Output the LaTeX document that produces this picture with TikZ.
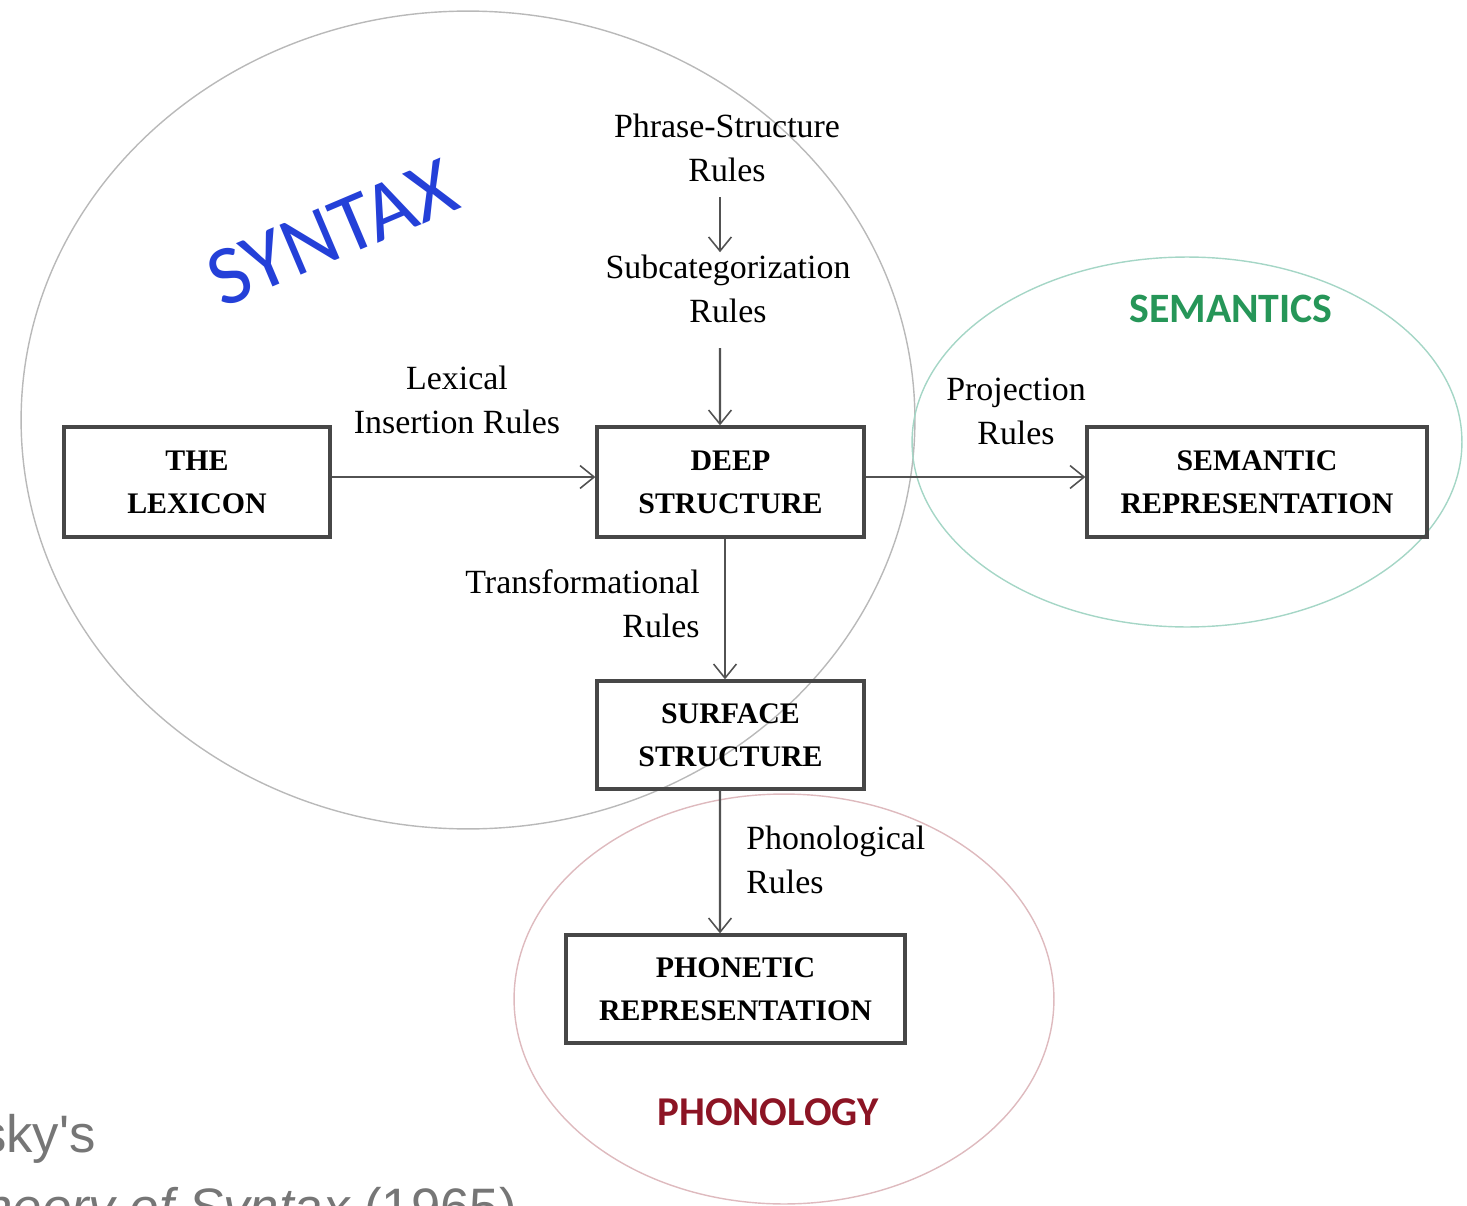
\documentclass[tikz,border=0pt]{standalone}
\usepackage{fontspec}
\setmainfont{Liberation Serif}
\newfontfamily\calfont{Carlito}
\newfontfamily\arialfont{Liberation Sans}
\usetikzlibrary{arrows.meta}
\definecolor{syntaxline}{RGB}{185,185,185}
\definecolor{semline}{RGB}{165,214,198}
\definecolor{phonline}{RGB}{222,186,190}
\definecolor{syntaxblue}{RGB}{36,64,216}
\definecolor{semgreen}{RGB}{38,150,88}
\definecolor{phonred}{RGB}{140,20,36}
\definecolor{capgray}{RGB}{118,118,118}
\begin{document}
\begin{tikzpicture}[x=0.02cm,y=-0.02cm,
  boxnode/.style={draw=black!72,line width=1.9pt,inner sep=0pt,align=center,
    font=\fontsize{17}{24.4}\selectfont\bfseries},
  lbl/.style={inner sep=0pt,font=\fontsize{19.3}{25}\selectfont},
  arr/.style={draw=black!68,line width=1.4pt,
    -{Straight Barb[length=8pt,width=13pt,line width=0.9pt]}},
  zone/.style={line width=0.8pt},
  caption/.style={inner sep=0pt,text=capgray,font=\arialfont\fontsize{30}{34}\selectfont}
]
\useasboundingbox (0,0) rectangle (1467,1206);
\clip (0,0) rectangle (1467,1206);

% domain ellipses
\draw[zone,draw=syntaxline] (468,420) ellipse [x radius=8.94cm, y radius=8.18cm];
\draw[zone,draw=semline] (1187,442) ellipse [x radius=5.5cm, y radius=3.7cm];
\draw[zone,draw=phonline] (784,999) ellipse [x radius=5.4cm, y radius=4.1cm];

% domain titles
\node[text=syntaxblue,rotate=23,inner sep=0pt,font=\calfont\fontsize{48}{52}\selectfont] (syntaxtitle) at (332,233) {SYNTAX};
\node[text=semgreen,inner sep=0pt,font=\calfont\bfseries\fontsize{23.8}{28}\selectfont] (semtitle) at (1231,309) {SEMANTICS};
\node[text=phonred,inner sep=0pt,font=\calfont\bfseries\fontsize{23.3}{28}\selectfont] (phontitle) at (768,1112) {PHONOLOGY};

% boxes
\node[boxnode,minimum width=5.32cm,minimum height=2.2cm] (lex) at (197,482) {THE\\LEXICON};
\node[boxnode,minimum width=5.34cm,minimum height=2.2cm] (deep) at (730.5,482) {DEEP\\STRUCTURE};
\node[boxnode,minimum width=6.8cm,minimum height=2.2cm] (sem) at (1257,482) {SEMANTIC\\REPRESENTATION};
\node[boxnode,minimum width=5.34cm,minimum height=2.16cm] (surf) at (730.5,735) {SURFACE\\STRUCTURE};
\node[boxnode,minimum width=6.78cm,minimum height=2.16cm] (phon) at (735.5,989) {PHONETIC\\REPRESENTATION};

% rule labels
\node[lbl,align=center] (psr) at (727,148) {Phrase-Structure\\Rules};
\node[lbl,align=center] (subcat) at (728,289) {Subcategorization\\Rules};
\node[lbl,align=center] (lexins) at (457,400) {Lexical\\Insertion Rules};
\node[lbl,align=center] (proj) at (1016,411) {Projection\\Rules};
\node[lbl,align=right,anchor=east] (trans) at (700,604) {Transformational\\Rules};
\node[lbl,align=left,anchor=west] (phonrules) at (746,860) {Phonological\\Rules};

% connectors
\draw[arr] ([xshift=-0.14cm,yshift=-0.3cm]psr.south) -- ([xshift=-0.16cm,yshift=0.05cm]subcat.north);
\draw[arr] ([xshift=-0.16cm,yshift=-0.5cm]subcat.south) -- ([xshift=-0.21cm]deep.north);
\draw[arr] ([yshift=0.1cm]lex.east) -- ([yshift=0.1cm]deep.west);
\draw[arr] ([yshift=0.1cm]deep.east) -- ([yshift=0.1cm]sem.west);
\draw[arr] ([xshift=-0.11cm]deep.south) -- ([xshift=-0.11cm]surf.north);
\draw[arr] ([xshift=-0.21cm]surf.south) -- ([xshift=-0.31cm]phon.north);

% cut-off caption
\node[caption,anchor=base east] (capone) at (96,1152) {sky's};
\node[caption,anchor=base east] (captwo) at (517,1225) {\itshape heory of Syntax \upshape(1965)};
\end{tikzpicture}
\end{document}
